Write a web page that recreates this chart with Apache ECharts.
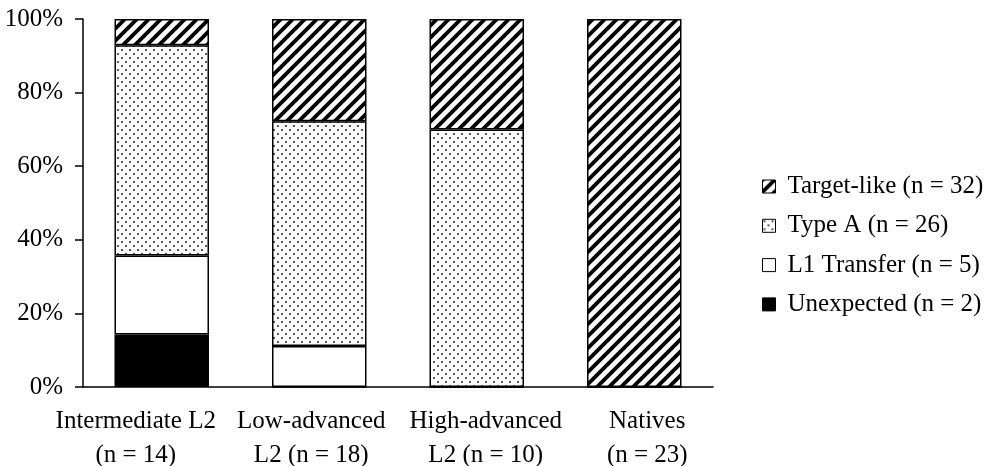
<!DOCTYPE html>
<html>
<head>
<meta charset="utf-8">
<script src="https://cdn.jsdelivr.net/npm/echarts@6/dist/echarts.min.js"></script>
<style>
  html, body { margin: 0; padding: 0; background: #fff; }
  #main { width: 991px; height: 466px; }
</style>
</head>
<body>
<div id="main"></div>
<script>
// groups on the x axis
var groups = ['Intermediate L2\n(n = 14)', 'Low-advanced\nL2 (n = 18)', 'High-advanced\nL2 (n = 10)', 'Natives\n(n = 23)'];
var groupN = [14, 18, 10, 23];

// counts per response type, per group
var unexpected = [2, 0, 0, 0];
var l1Transfer = [3, 2, 0, 0];
var typeA = [8, 11, 7, 0];
var targetLike = [1, 5, 3, 23];

var legendNames = ['Target-like (n = 32)', 'Type A (n = 26)', 'L1 Transfer (n = 5)', 'Unexpected (n = 2)'];
var yTicks = [0, 20, 40, 60, 80, 100];

// the original's x labels sit a bit off the bar centres
var labelShift = [-26, -8, 9, 13];

function pct(arr) {
  return arr.map(function (v, i) { return +(v / groupN[i] * 100).toFixed(2); });
}

// hatch fill: thick "/" stripes
function hatchPattern() {
  var s = 12;
  var c = document.createElement('canvas');
  c.width = s; c.height = s;
  var ctx = c.getContext('2d');
  ctx.fillStyle = '#fff';
  ctx.fillRect(0, 0, s, s);
  ctx.strokeStyle = '#000';
  ctx.lineWidth = 3.8;
  ctx.beginPath();
  ctx.moveTo(-s, s); ctx.lineTo(s, -s);
  ctx.moveTo(0, 2 * s); ctx.lineTo(2 * s, 0);
  ctx.moveTo(0, s); ctx.lineTo(s, 0);
  ctx.stroke();
  return { image: c, repeat: 'repeat' };
}

// dotted fill: staggered small dots
function dotPattern() {
  var s = 8;
  var c = document.createElement('canvas');
  c.width = s; c.height = s;
  var ctx = c.getContext('2d');
  ctx.fillStyle = '#fff';
  ctx.fillRect(0, 0, s, s);
  ctx.fillStyle = '#222';
  [[2, 2], [6, 6]].forEach(function (p) {
    ctx.beginPath();
    ctx.arc(p[0], p[1], 1, 0, Math.PI * 2);
    ctx.fill();
  });
  return { image: c, repeat: 'repeat' };
}

var font = 'Liberation Serif';
var chart = echarts.init(document.getElementById('main'));

function bar(name, data, color) {
  return {
    name: name,
    type: 'bar',
    stack: 'all',
    barCategoryGap: '40%',
    data: pct(data),
    itemStyle: { color: color, borderColor: '#000', borderWidth: 1.5 },
    emphasis: { disabled: true }
  };
}

var rich = {};
labelShift.forEach(function (d, i) {
  rich['o' + i] = {
    fontFamily: font, fontSize: 25, lineHeight: 34, color: '#000',
    padding: d < 0 ? [0, -2 * d, 0, 0] : [0, 0, 0, 2 * d]
  };
});

chart.setOption({
  animation: false,
  textStyle: { fontFamily: font, color: '#000' },
  grid: { left: 83, right: 278, top: 19, bottom: 79, outerBoundsMode: 'none', containLabel: false },
  legend: {
    orient: 'vertical',
    left: 757,
    top: 169,
    itemWidth: 13,
    itemHeight: 13,
    itemGap: 14.3,
    icon: 'rect',
    data: legendNames,
    selectedMode: false,
    textStyle: { fontFamily: font, fontSize: 25, lineHeight: 25, color: '#000', padding: [0, 0, 0, 7] },
    itemStyle: { borderColor: '#000', borderWidth: 1 }
  },
  xAxis: {
    type: 'category',
    data: groups,
    axisLine: { lineStyle: { color: '#000', width: 1.5 } },
    axisTick: { length: 6, lineStyle: { color: '#000', width: 1.5 } },
    axisLabel: {
      fontFamily: font, fontSize: 25, color: '#000', lineHeight: 34, margin: 17, interval: 0,
      formatter: function (v, i) {
        return v.split('\n').map(function (l) { return '{o' + i + '|' + l + '}'; }).join('\n');
      },
      rich: rich
    }
  },
  yAxis: {
    type: 'value',
    min: yTicks[0],
    max: yTicks[yTicks.length - 1],
    interval: yTicks[1] - yTicks[0],
    splitLine: { show: false },
    axisLine: { show: true, lineStyle: { color: '#000', width: 1.5 } },
    axisTick: { show: true, length: 8, lineStyle: { color: '#000', width: 1.5 } },
    axisLabel: { fontFamily: font, fontSize: 25, color: '#000', margin: 20, formatter: '{value}%' }
  },
  series: [
    bar(legendNames[3], unexpected, '#000'),
    bar(legendNames[2], l1Transfer, '#fff'),
    bar(legendNames[1], typeA, dotPattern()),
    bar(legendNames[0], targetLike, hatchPattern())
  ]
});
</script>
</body>
</html>
